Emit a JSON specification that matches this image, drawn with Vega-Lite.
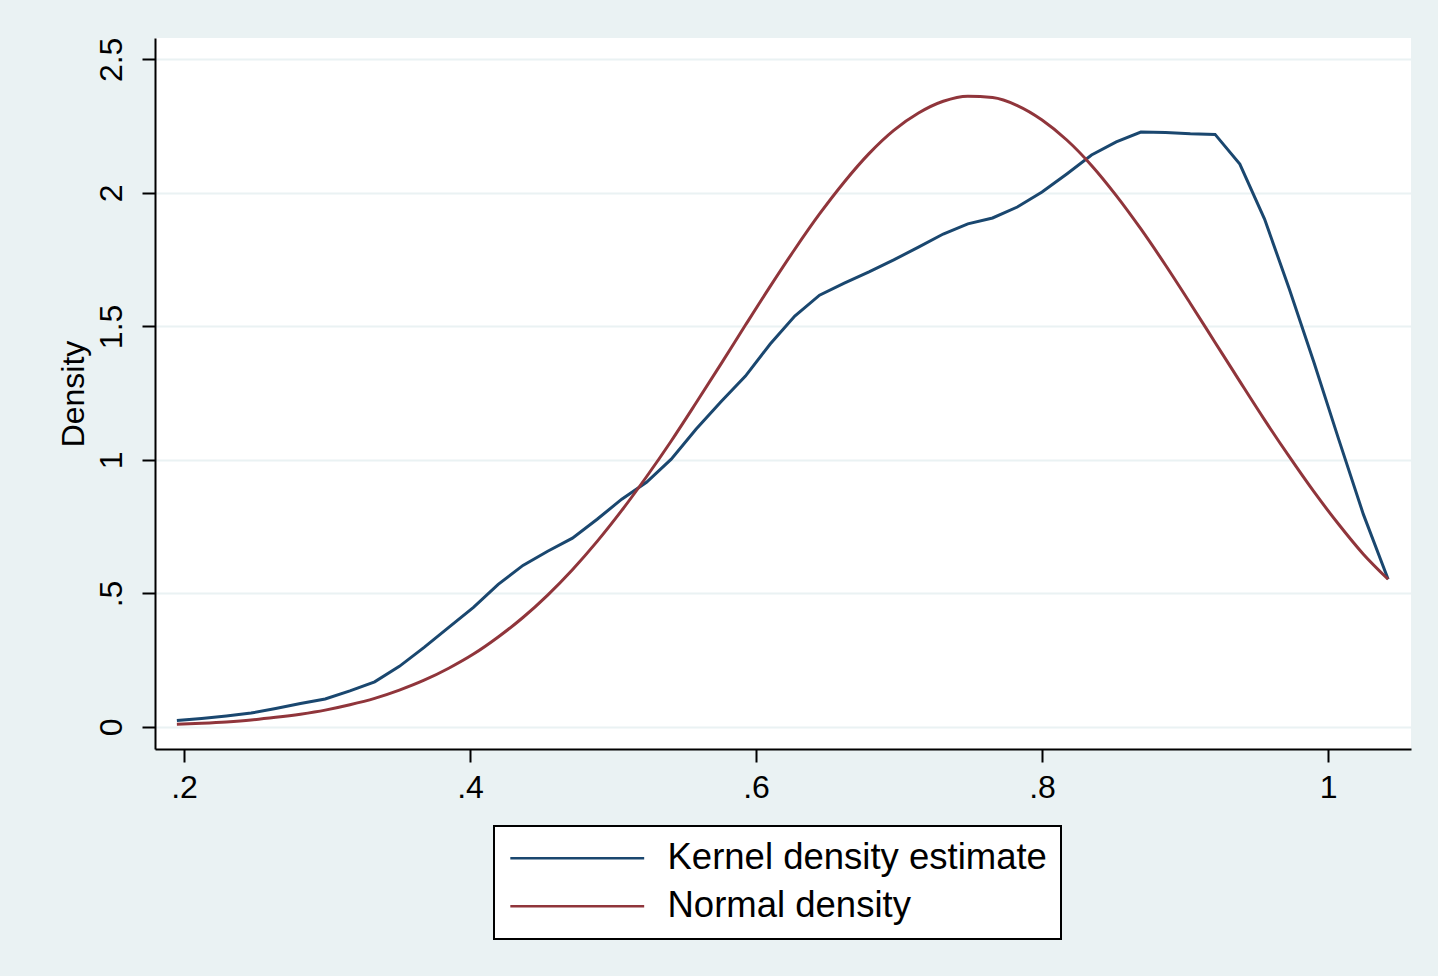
{
  "$schema": "https://vega.github.io/schema/vega-lite/v6.json",
  "width": 1256,
  "height": 711,
  "autosize": {"type": "none"},
  "padding": {"left": 155, "top": 38, "right": 27, "bottom": 227},
  "background": "#eaf2f3",
  "config": {
    "view": {"fill": "white", "stroke": null},
    "font": "Liberation Sans",
    "axis": {
      "domainColor": "black",
      "domainWidth": 2,
      "tickColor": "black",
      "tickWidth": 2,
      "tickSize": 13,
      "labelColor": "black",
      "titleColor": "black",
      "labelFont": "Liberation Sans",
      "titleFont": "Liberation Sans",
      "gridColor": "#eaf2f3",
      "gridWidth": 2
    }
  },
  "data": {
    "values": [
      {"x": 0.1950, "density": 0.024, "series": "Kernel density estimate"},
      {"x": 0.2123, "density": 0.032, "series": "Kernel density estimate"},
      {"x": 0.2296, "density": 0.041, "series": "Kernel density estimate"},
      {"x": 0.2469, "density": 0.052, "series": "Kernel density estimate"},
      {"x": 0.2641, "density": 0.069, "series": "Kernel density estimate"},
      {"x": 0.2814, "density": 0.088, "series": "Kernel density estimate"},
      {"x": 0.2987, "density": 0.105, "series": "Kernel density estimate"},
      {"x": 0.3160, "density": 0.135, "series": "Kernel density estimate"},
      {"x": 0.3333, "density": 0.169, "series": "Kernel density estimate"},
      {"x": 0.3506, "density": 0.227, "series": "Kernel density estimate"},
      {"x": 0.3679, "density": 0.298, "series": "Kernel density estimate"},
      {"x": 0.3851, "density": 0.373, "series": "Kernel density estimate"},
      {"x": 0.4024, "density": 0.448, "series": "Kernel density estimate"},
      {"x": 0.4197, "density": 0.534, "series": "Kernel density estimate"},
      {"x": 0.4370, "density": 0.605, "series": "Kernel density estimate"},
      {"x": 0.4543, "density": 0.658, "series": "Kernel density estimate"},
      {"x": 0.4716, "density": 0.707, "series": "Kernel density estimate"},
      {"x": 0.4889, "density": 0.778, "series": "Kernel density estimate"},
      {"x": 0.5061, "density": 0.853, "series": "Kernel density estimate"},
      {"x": 0.5234, "density": 0.916, "series": "Kernel density estimate"},
      {"x": 0.5407, "density": 1.003, "series": "Kernel density estimate"},
      {"x": 0.5580, "density": 1.115, "series": "Kernel density estimate"},
      {"x": 0.5753, "density": 1.217, "series": "Kernel density estimate"},
      {"x": 0.5926, "density": 1.314, "series": "Kernel density estimate"},
      {"x": 0.6099, "density": 1.434, "series": "Kernel density estimate"},
      {"x": 0.6271, "density": 1.539, "series": "Kernel density estimate"},
      {"x": 0.6444, "density": 1.617, "series": "Kernel density estimate"},
      {"x": 0.6617, "density": 1.662, "series": "Kernel density estimate"},
      {"x": 0.6790, "density": 1.704, "series": "Kernel density estimate"},
      {"x": 0.6963, "density": 1.749, "series": "Kernel density estimate"},
      {"x": 0.7136, "density": 1.797, "series": "Kernel density estimate"},
      {"x": 0.7309, "density": 1.846, "series": "Kernel density estimate"},
      {"x": 0.7481, "density": 1.884, "series": "Kernel density estimate"},
      {"x": 0.7654, "density": 1.906, "series": "Kernel density estimate"},
      {"x": 0.7827, "density": 1.947, "series": "Kernel density estimate"},
      {"x": 0.8000, "density": 2.003, "series": "Kernel density estimate"},
      {"x": 0.8173, "density": 2.071, "series": "Kernel density estimate"},
      {"x": 0.8346, "density": 2.142, "series": "Kernel density estimate"},
      {"x": 0.8519, "density": 2.191, "series": "Kernel density estimate"},
      {"x": 0.8691, "density": 2.228, "series": "Kernel density estimate"},
      {"x": 0.8864, "density": 2.226, "series": "Kernel density estimate"},
      {"x": 0.9037, "density": 2.221, "series": "Kernel density estimate"},
      {"x": 0.9210, "density": 2.219, "series": "Kernel density estimate"},
      {"x": 0.9383, "density": 2.108, "series": "Kernel density estimate"},
      {"x": 0.9556, "density": 1.902, "series": "Kernel density estimate"},
      {"x": 0.9729, "density": 1.640, "series": "Kernel density estimate"},
      {"x": 0.9901, "density": 1.366, "series": "Kernel density estimate"},
      {"x": 1.0074, "density": 1.078, "series": "Kernel density estimate"},
      {"x": 1.0247, "density": 0.796, "series": "Kernel density estimate"},
      {"x": 1.0420, "density": 0.553, "series": "Kernel density estimate"},
      {"x": 0.1950, "density": 0.010, "series": "Normal density"},
      {"x": 0.2123, "density": 0.014, "series": "Normal density"},
      {"x": 0.2296, "density": 0.019, "series": "Normal density"},
      {"x": 0.2469, "density": 0.026, "series": "Normal density"},
      {"x": 0.2641, "density": 0.036, "series": "Normal density"},
      {"x": 0.2814, "density": 0.048, "series": "Normal density"},
      {"x": 0.2987, "density": 0.063, "series": "Normal density"},
      {"x": 0.3160, "density": 0.083, "series": "Normal density"},
      {"x": 0.3333, "density": 0.107, "series": "Normal density"},
      {"x": 0.3506, "density": 0.138, "series": "Normal density"},
      {"x": 0.3679, "density": 0.175, "series": "Normal density"},
      {"x": 0.3851, "density": 0.220, "series": "Normal density"},
      {"x": 0.4024, "density": 0.273, "series": "Normal density"},
      {"x": 0.4197, "density": 0.337, "series": "Normal density"},
      {"x": 0.4370, "density": 0.410, "series": "Normal density"},
      {"x": 0.4543, "density": 0.494, "series": "Normal density"},
      {"x": 0.4716, "density": 0.589, "series": "Normal density"},
      {"x": 0.4889, "density": 0.695, "series": "Normal density"},
      {"x": 0.5061, "density": 0.811, "series": "Normal density"},
      {"x": 0.5234, "density": 0.937, "series": "Normal density"},
      {"x": 0.5407, "density": 1.071, "series": "Normal density"},
      {"x": 0.5580, "density": 1.213, "series": "Normal density"},
      {"x": 0.5753, "density": 1.358, "series": "Normal density"},
      {"x": 0.5926, "density": 1.505, "series": "Normal density"},
      {"x": 0.6099, "density": 1.650, "series": "Normal density"},
      {"x": 0.6271, "density": 1.789, "series": "Normal density"},
      {"x": 0.6444, "density": 1.921, "series": "Normal density"},
      {"x": 0.6617, "density": 2.041, "series": "Normal density"},
      {"x": 0.6790, "density": 2.147, "series": "Normal density"},
      {"x": 0.6963, "density": 2.234, "series": "Normal density"},
      {"x": 0.7136, "density": 2.299, "series": "Normal density"},
      {"x": 0.7309, "density": 2.343, "series": "Normal density"},
      {"x": 0.7481, "density": 2.362, "series": "Normal density"},
      {"x": 0.7654, "density": 2.357, "series": "Normal density"},
      {"x": 0.7827, "density": 2.327, "series": "Normal density"},
      {"x": 0.8000, "density": 2.273, "series": "Normal density"},
      {"x": 0.8173, "density": 2.198, "series": "Normal density"},
      {"x": 0.8346, "density": 2.103, "series": "Normal density"},
      {"x": 0.8519, "density": 1.990, "series": "Normal density"},
      {"x": 0.8691, "density": 1.865, "series": "Normal density"},
      {"x": 0.8864, "density": 1.729, "series": "Normal density"},
      {"x": 0.9037, "density": 1.586, "series": "Normal density"},
      {"x": 0.9210, "density": 1.440, "series": "Normal density"},
      {"x": 0.9383, "density": 1.294, "series": "Normal density"},
      {"x": 0.9556, "density": 1.150, "series": "Normal density"},
      {"x": 0.9729, "density": 1.012, "series": "Normal density"},
      {"x": 0.9901, "density": 0.881, "series": "Normal density"},
      {"x": 1.0074, "density": 0.759, "series": "Normal density"},
      {"x": 1.0247, "density": 0.647, "series": "Normal density"},
      {"x": 1.0420, "density": 0.553, "series": "Normal density"}
    ]
  },
  "encoding": {
    "x": {
      "field": "x",
      "type": "quantitative",
      "scale": {"domain": [0.1797, 1.058], "nice": false, "zero": false},
      "axis": {
        "title": null,
        "values": [0.2, 0.4, 0.6, 0.8, 1],
        "labelExpr": "replace(format(datum.value, '~g'), '0.', '.')",
        "labelFontSize": 32,
        "labelPadding": 10,
        "grid": false
      }
    },
    "y": {
      "field": "density",
      "type": "quantitative",
      "scale": {"domain": [-0.0825, 2.58], "nice": false, "zero": false},
      "axis": {
        "title": "Density",
        "titleFontSize": 32,
        "titleFontWeight": "normal",
        "titleBaseline": "alphabetic",
        "titlePadding": 12,
        "values": [0, 0.5, 1, 1.5, 2, 2.5],
        "labelExpr": "replace(format(datum.value, '~g'), '0.', '.')",
        "labelFontSize": 32,
        "labelAngle": 270,
        "labelAlign": "center",
        "labelBaseline": "alphabetic",
        "labelPadding": 21,
        "grid": true
      }
    },
    "color": {
      "field": "series",
      "type": "nominal",
      "scale": {"domain": ["Kernel density estimate", "Normal density"], "range": ["#1a476f", "#90353b"]},
      "legend": {
        "title": null,
        "orient": "none",
        "legendX": 339,
        "legendY": 788,
        "direction": "vertical",
        "fillColor": "white",
        "strokeColor": "black",
        "padding": 14,
        "symbolType": "M-8,0H8",
        "symbolSize": 280,
        "symbolStrokeWidth": 2.5,
        "symbolOffset": 51,
        "labelOffset": 72,
        "labelFontSize": 36.5,
        "labelFont": "Liberation Sans",
        "labelColor": "black",
        "labelLimit": 700,
        "labelExpr": "datum.label + '\u00a0\u00a0'",
        "rowPadding": 11,
        "encode": {"legend": {"update": {"strokeWidth": {"value": 2}}}}
      }
    }
  },
  "layer": [
    {
      "transform": [{"filter": "datum.series === 'Kernel density estimate'"}],
      "mark": {"type": "line", "strokeWidth": 3, "strokeJoin": "miter", "clip": true}
    },
    {
      "transform": [{"filter": "datum.series === 'Normal density'"}],
      "mark": {"type": "line", "strokeWidth": 3, "interpolate": "monotone", "clip": true}
    }
  ]
}
